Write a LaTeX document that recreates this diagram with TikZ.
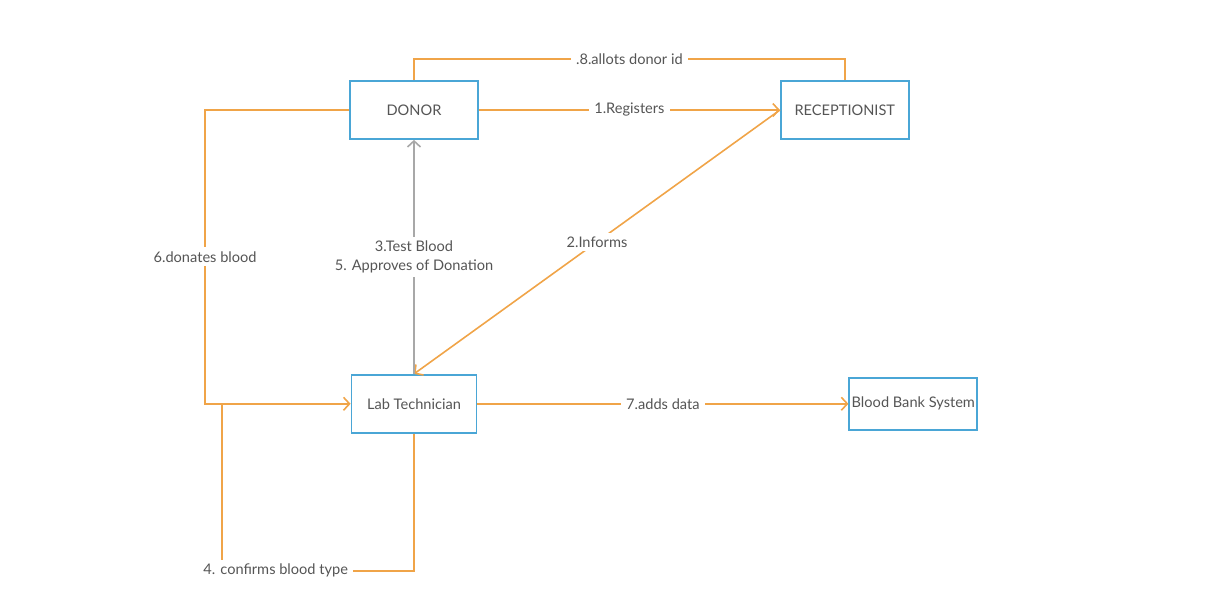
\documentclass[tikz,border=0pt]{standalone}
\usepackage{fontspec}
\setmainfont{Lato}
\usetikzlibrary{arrows.meta,positioning}
\definecolor{flowor}{HTML}{F0A448}
\definecolor{boxblue}{HTML}{4AA6D6}
\definecolor{msggray}{HTML}{A8A8A8}
\definecolor{txtgray}{HTML}{555555}

\begin{document}
\begin{tikzpicture}[x=1pt,y=-1pt,->,>={Straight Barb[length=6pt,width=13pt]},
                    semithick,node distance=234pt,font=\fontsize{14.6}{19.5}\selectfont]
  \tikzstyle{box}=[draw=boxblue,line width=1.8pt,fill=white,text=txtgray,
                   minimum width=128pt,minimum height=58pt,inner sep=1pt]
  \tikzstyle{lbl}=[fill=white,inner xsep=5pt,inner ysep=4pt,text=txtgray]
  \tikzstyle{flow}=[draw=flowor,line width=1.6pt]
  \tikzstyle{msg}=[draw=msggray,line width=1.6pt]

  \useasboundingbox (0,0) rectangle (1222,593);

  \node[box] (donor) at (414,110)             {DONOR};
  \node[box] (receptionist) [right=301pt of donor] {RECEPTIONIST};
  \node[box,minimum width=125pt] (labtech) [below=of donor] {Lab Technician};
  \node[box,minimum height=52pt] (bbs) [right=371pt of labtech] {Blood Bank System};
  \coordinate (join) at (222,403);

  \draw[flow] (donor) -- node[lbl] {1.Registers} (receptionist);
  \draw[flow] (receptionist.west) -- node[lbl] {2.Informs} (labtech.north);
  \draw[msg] (labtech.north) -- node[lbl,align=center] {3.Test Blood\\5. Approves of Donation} (donor.south);
  \draw[flow] (labtech) -- node[lbl] {7.adds data} (bbs);

  \draw[flow,-] (donor.north) -- ++(0,-21) -| node[lbl,pos=0.25] {.8.allots donor id} (receptionist.north);
  \draw[flow] (donor.west) -- ++(-144,0) |- node[lbl,pos=0.25] {6.donates blood} (labtech.west);
  \draw[flow,-] (labtech.south) -- ++(0,137) -| node[lbl,pos=0.36] {4. confirms blood type} (join);
\end{tikzpicture}
\end{document}
